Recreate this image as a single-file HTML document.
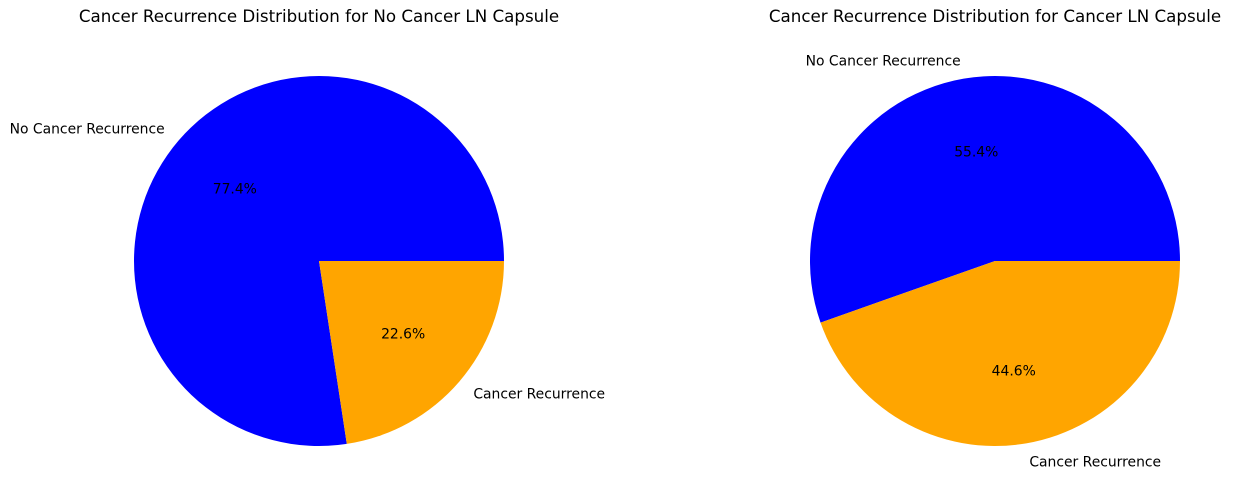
<!DOCTYPE html>
<html><head><meta charset="utf-8">
<style>
body{margin:0;background:#fff;}
svg{display:block;font-family:"DejaVu Sans","Liberation Sans",sans-serif;}
</style></head>
<body>
<svg id="chart" width="1236" height="502" viewBox="0 0 1236 502"></svg>
<script>
const categories = ["No Cancer Recurrence", "Cancer Recurrence"];
const chartTitles = ["Cancer Recurrence Distribution for No Cancer LN Capsule", "Cancer Recurrence Distribution for Cancer LN Capsule"];
const noCapsuleValues = [77.4, 22.6];
const capsuleValues = [55.4, 44.6];
const sliceColors = ["#0000ff", "#ffa500"];

const svg = document.getElementById('chart');
const NS = "http://www.w3.org/2000/svg";
function mk(tag, attrs){const e=document.createElementNS(NS,tag);for(const k in attrs)e.setAttribute(k,attrs[k]);return e;}

function drawPie(values, title, cx, cy, r, key){
  const g = mk('g',{});
  
  
  svg.appendChild(g);
  const t = mk('text',{x:cx,y:22,'text-anchor':'middle','font-size':'16.7px',fill:'#000'});
  
  
  t.textContent = title;
  g.appendChild(t);
  const total = values.reduce((a,b)=>a+b,0);
  let a0 = 0;
  values.forEach((v,i)=>{
    const a1 = a0 + v/total*2*Math.PI;
    const x0=cx+r*Math.cos(a0), y0=cy-r*Math.sin(a0);
    const x1=cx+r*Math.cos(a1), y1=cy-r*Math.sin(a1);
    const large = (a1-a0)>Math.PI?1:0;
    const p = mk('path',{d:`M${cx},${cy} L${x0},${y0} A${r},${r} 0 ${large} 0 ${x1},${y1} Z`,fill:sliceColors[i]});
    
    
    g.appendChild(p);
    const am=(a0+a1)/2, c=Math.cos(am), s=Math.sin(am);
    const lx=cx+1.1*r*c, ly=cy-1.1*r*s;
    const lab = mk('text',{x:lx,y:ly+5,'text-anchor':c<0?'end':'start','font-size':'13.9px',fill:'#000'});
    
    
    lab.textContent = categories[i];
    g.appendChild(lab);
    const px=cx+0.6*r*c, py=cy-0.6*r*s;
    const pt = mk('text',{x:px,y:py+5,'text-anchor':'middle','font-size':'13.9px',fill:'#000'});
    
    
    pt.textContent = (v/total*100).toFixed(1)+'%';
    g.appendChild(pt);
    a0 = a1;
  });
}
drawPie(noCapsuleValues, chartTitles[0], 319, 261, 185, 'no-capsule');
drawPie(capsuleValues, chartTitles[1], 995, 261, 185, 'capsule');
</script>
</body></html>
